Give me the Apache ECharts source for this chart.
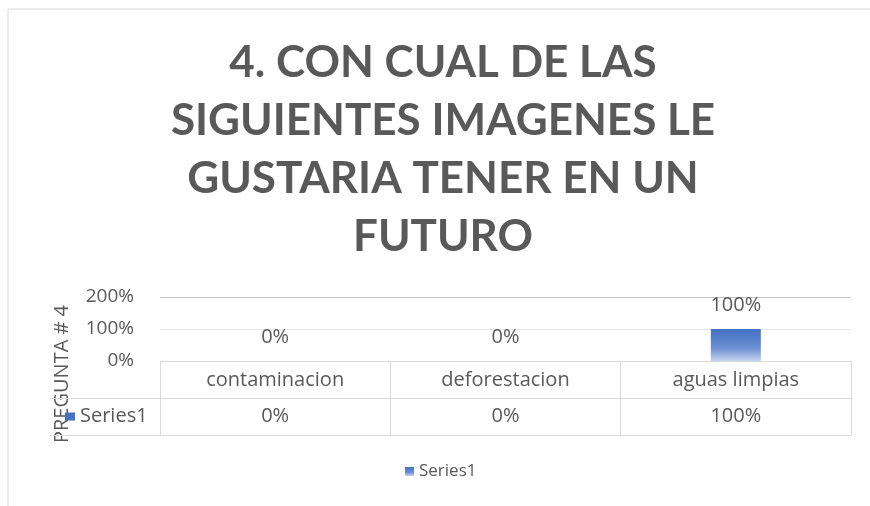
<!DOCTYPE html>
<html>
<head>
<meta charset="utf-8">
<script src="https://cdn.jsdelivr.net/npm/echarts@6/dist/echarts.min.js"></script>
<style>
  html, body { margin: 0; padding: 0; background: #fff; }
  #chart { width: 870px; height: 506px; }
</style>
</head>
<body>
<div id="chart"></div>
<script>
const titleText = '4. CON CUAL DE LAS\nSIGUIENTES IMAGENES LE\nGUSTARIA TENER EN UN\nFUTURO'
const categories = ['contaminacion', 'deforestacion', 'aguas limpias']
const seriesName = 'Series1'
const values = [0, 0, 100]
const yTicks = [0, 100, 200]
const axisTitle = 'PREGUNTA # 4'

const textColor = '#595959'
const lineColor = '#d9d9d9'
const font = 'Open Sans'

const chart = echarts.init(document.getElementById('chart'))

const pct = v => v + '%'

chart.setOption({
  animation: false,
  title: {
    text: titleText,
    left: 438,
    textAlign: 'center',
    top: 29,
    textStyle: {
      fontFamily: 'Lato',
      fontWeight: 'bold',
      fontSize: 44,
      lineHeight: 58,
      color: textColor
    }
  },
  legend: {
    bottom: 21,
    left: 400,
    itemWidth: 9,
    itemHeight: 9,
    icon: 'rect',
    itemGap: 6,
    textStyle: { fontFamily: font, fontSize: 17, color: textColor },
    data: [seriesName]
  },
  grid: [
    // plot
    { left: 160, width: 691, top: 297, height: 64 },
    // data table
    { left: 160, width: 691, top: 361, height: 74 },
    // row header of the table
    { left: 50, width: 110, top: 398, height: 37 }
  ],
  xAxis: [
    {
      gridIndex: 0,
      type: 'category',
      data: categories,
      axisLine: { show: false },
      axisTick: { show: false },
      axisLabel: { margin: 9, fontFamily: font, fontSize: 20, color: textColor }
    },
    {
      gridIndex: 1,
      type: 'category',
      data: categories,
      axisLine: { show: false },
      axisTick: { show: false },
      splitLine: { show: true, lineStyle: { color: lineColor } },
      axisLabel: {
        inside: true,
        margin: 9,
        fontFamily: font,
        fontSize: 20,
        color: textColor,
        formatter: (v, i) => pct(values[i])
      }
    },
    {
      gridIndex: 2,
      type: 'value',
      show: false
    }
  ],
  yAxis: [
    {
      gridIndex: 0,
      type: 'value',
      min: yTicks[0],
      max: yTicks[yTicks.length - 1],
      interval: 100,
      axisLine: { show: false },
      axisTick: { show: false },
      splitLine: { lineStyle: { color: ['#f0f0f0', '#e8e8e8', '#c4c4c4'] } },
      axisLabel: { margin: 26, fontFamily: font, fontSize: 19, color: textColor, formatter: pct }
    },
    {
      gridIndex: 1,
      type: 'value',
      min: 0,
      max: 2,
      interval: 1,
      axisLine: { show: false },
      axisTick: { show: false },
      axisLabel: { show: false },
      splitLine: { lineStyle: { color: lineColor } }
    },
    {
      gridIndex: 2,
      type: 'category',
      data: [seriesName],
      axisLine: { show: false },
      axisTick: { show: false },
      splitLine: { show: true, lineStyle: { color: lineColor } },
      axisLabel: {
        inside: true,
        margin: 15,
        formatter: v => '{k|}{t|' + v + '}',
        rich: {
          k: { width: 10, height: 8, backgroundColor: '#4472c4' },
          t: { fontFamily: font, fontSize: 20, color: textColor, padding: [0, 0, 0, 5] }
        }
      }
    }
  ],
  series: [
    {
      name: seriesName,
      type: 'bar',
      xAxisIndex: 0,
      yAxisIndex: 0,
      data: values,
      barWidth: 50,
      itemStyle: {
        color: new echarts.graphic.LinearGradient(0, 0, 0, 1, [
          { offset: 0, color: '#4472c4' },
          { offset: 0.6, color: '#6d8fd2' },
          { offset: 1, color: '#c5d3ee' }
        ])
      },
      label: {
        show: true,
        position: 'top',
        distance: 14,
        fontFamily: font,
        fontSize: 20,
        color: textColor,
        formatter: p => pct(p.value)
      }
    }
  ],
  graphic: [
    {
      type: 'polyline',
      shape: { points: [[8, 506], [8, 9], [870, 9]] },
      style: { stroke: lineColor, lineWidth: 1, fill: null },
      silent: true
    },
    {
      type: 'text',
      x: 62,
      y: 374,
      rotation: Math.PI / 2,
      style: {
        text: axisTitle,
        font: '20px "Open Sans"',
        fill: textColor,
        align: 'center',
        verticalAlign: 'middle'
      },
      z: -1
    }
  ]
})
</script>
</body>
</html>
